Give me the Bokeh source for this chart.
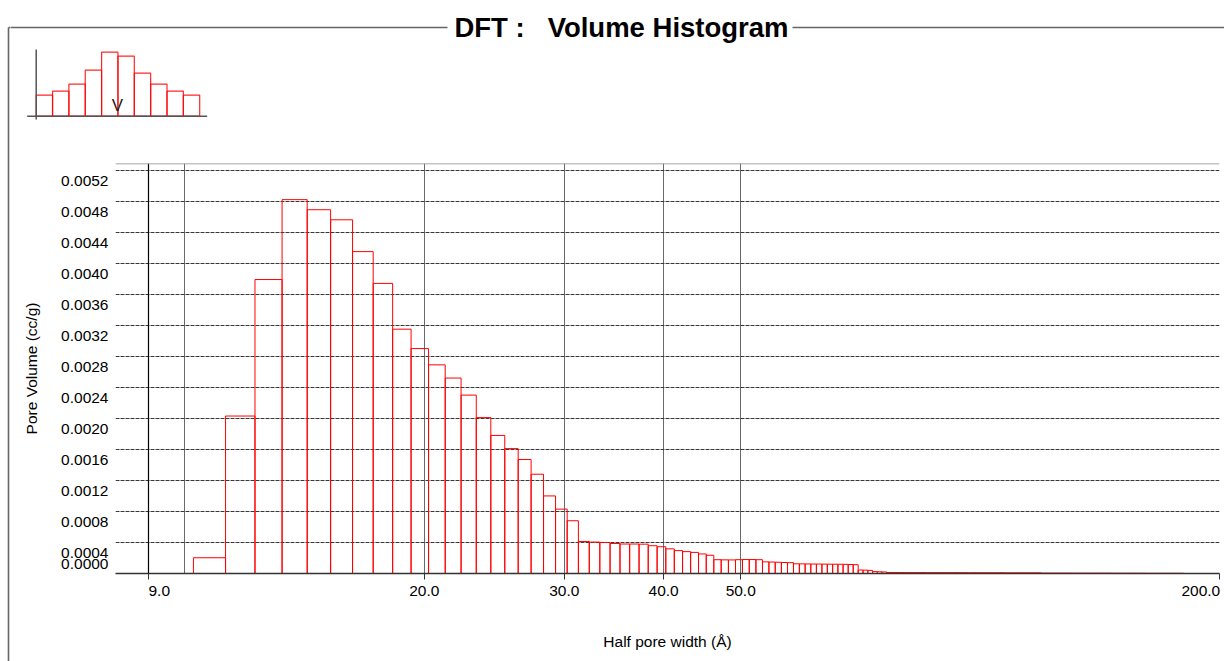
import numpy as np
from bokeh.plotting import figure
from bokeh.layouts import column, row
from bokeh.models import (Range1d, FixedTicker, PrintfTickFormatter, Span, LinearAxis, Grid,
                          ColumnDataSource)
from bokeh.core.properties import value
from bokeh.embed import file_html
from bokeh.resources import INLINE

# ---------------- data ----------------
first_bin_edge = 10.25      # half pore width (A) of first bin's left edge
bin_width = 1.0             # uniform 1 A bins

pore_volume = [
    0.000203, 0.00203, 0.00379, 0.00482, 0.00469, 0.00456, 0.00415, 0.00374, 0.00315, 0.00290,
    0.00269, 0.00252, 0.00230, 0.00201, 0.00178, 0.00161, 0.00147, 0.00128, 0.00100, 0.00083,
    0.00068, 0.000413, 0.000405, 0.000400, 0.000387, 0.000380, 0.000380, 0.000378, 0.000358, 0.000345,
    0.000318, 0.000295, 0.000282, 0.000272, 0.000252, 0.000235, 0.000178, 0.000176, 0.000175, 0.000178,
    0.000180, 0.000180, 0.000178, 0.000150, 0.000148, 0.000145, 0.000142, 0.000140, 0.000125, 0.000124,
    0.000123, 0.000122, 0.000122, 0.000121, 0.000120, 0.000120, 0.000119, 0.000118, 0.000116, 0.000114,
    0.000045, 0.000043, 0.000040, 0.000024, 0.000022, 0.000020, 0.000013, 0.000013, 0.000013, 0.000012,
    0.000012, 0.000012, 0.000012, 0.000012, 0.000012, 0.000011, 0.000011, 0.000011, 0.000011, 0.000011,
    0.000011, 0.000011, 0.000011, 0.000011, 0.000011, 0.000011, 0.000010, 0.000010, 0.000010, 0.000010,
    0.000010, 0.000010, 0.000010, 0.000010, 0.000010, 0.000010, 0.000010, 0.000009, 0.000009, 0.000009,
    0.000009, 0.000009, 0.000009, 0.000009, 0.000009, 0.000009, 0.000009, 0.000009, 0.000009, 0.000006,
    0.000006, 0.000006, 0.000006, 0.000006, 0.000006, 0.000006, 0.000006, 0.000006, 0.000006, 0.000006,
    0.000005, 0.000005, 0.000005, 0.000005, 0.000005, 0.000005, 0.000005, 0.000005, 0.000005, 0.000005,
    0.000005, 0.000005, 0.000005, 0.000005, 0.000005, 0.000005, 0.000004, 0.000004, 0.000004, 0.000004,
    0.000004, 0.000004, 0.000004, 0.000004, 0.000004, 0.000004, 0.000004, 0.000004, 0.000004, 0.000004,
    0.000004, 0.000003, 0.000003, 0.000003, 0.000003, 0.000003, 0.000003, 0.000003, 0.000003, 0.000003,
    0.000003, 0.000003, 0.000003, 0.000003, 0.000003, 0.000003, 0.000003, 0.000003, 0.000003, 0.000003,
]

x_ticks = [9, 20, 30, 40, 50, 200]
x_grid_ticks = [10, 20, 30, 40, 50, 200]
y_ticks = [0.0004, 0.0008, 0.0012, 0.0016, 0.0020, 0.0024, 0.0028,
           0.0032, 0.0036, 0.0040, 0.0044, 0.0048, 0.0052]
y_zero_label = "0.0000"

inset_bars = [21, 25, 32, 46, 64, 60, 43, 32, 25, 21]   # icon bar heights

NB = "\u00a0"
title_text = "DFT :" + NB * 3 + "Volume Histogram"
x_label = "Half pore width (\u00c5)"
y_label = "Pore Volume (cc/g)"

FONT = "Liberation Sans"
RED = "#ff0000"
FRAME_GREY = "#666666"

W, H, TOP_H, STRIP_W = 1224, 661, 140, 10
MAIN_H = H - TOP_H

# ---------------- left strip: outer frame left edge (full height) ----------------
strip = figure(width=STRIP_W, height=H, x_range=Range1d(0, STRIP_W), y_range=Range1d(H, 0),
               min_border=0, toolbar_location=None, output_backend="svg",
               x_axis_location=None, y_axis_location=None, outline_line_color=None)
strip.grid.visible = False
strip.frame_align = False
strip.segment(x0=[8, 8], y0=[27, 27], x1=[8, STRIP_W + 1], y1=[H + 1, 27],
              line_color=FRAME_GREY, line_width=1.6)

# ---------------- top strip: title, outer frame top edge, icon ----------------
top = figure(width=W - STRIP_W, height=TOP_H, x_range=Range1d(STRIP_W, W), y_range=Range1d(TOP_H, 0),
             min_border=0, toolbar_location=None, output_backend="svg",
             x_axis_location=None, y_axis_location=None, outline_line_color=None)
top.grid.visible = False
top.frame_align = False

top.segment(x0=[STRIP_W - 1, 792], y0=[27, 27], x1=[447, W], y1=[27, 27],
            line_color=FRAME_GREY, line_width=1.6)
top.text(x=[621], y=[27], text=[title_text], text_align="center", text_baseline="middle",
         text_font=value(FONT), text_font_style="bold", text_font_size="27.5px", text_color="black")

n_in = len(inset_bars)
icon_left, icon_w, icon_base = 35.7, 16.35, 115.7
ic_left = [icon_left + i * icon_w for i in range(n_in)]
ic_right = [l + icon_w for l in ic_left]
ic_top = [icon_base - h for h in inset_bars]
top.quad(left=ic_left, right=ic_right, bottom=icon_base, top=ic_top,
         fill_color=None, line_color=RED, line_width=1.2, line_alpha=0.85)
top.segment(x0=[icon_left, 26.7], y0=[49, icon_base], x1=[icon_left, 206.7], y1=[119, icon_base],
            line_color="#555555", line_width=1.5)
top.text(x=[117], y=[105], text=["V"], text_align="center", text_baseline="middle",
         text_font=value(FONT), text_font_size="17px", text_color="#222222")

# ---------------- main histogram ----------------
n = len(pore_volume)
edges = first_bin_edge + bin_width * np.arange(n + 1)
src = ColumnDataSource(dict(left=edges[:-1], right=edges[1:], top=pore_volume))

FRAME_H = 410
x_start = 8.18
y_end = 0.005286
p = figure(width=W - STRIP_W, height=MAIN_H, x_axis_type="log",
           x_range=Range1d(x_start, 200), y_range=Range1d(0, y_end),
           min_border_left=115 - STRIP_W, min_border_right=5, min_border_top=23, min_border_bottom=88,
           toolbar_location=None, output_backend="svg", outline_line_color=None,
           y_axis_location=None,
           background_fill_color="white", border_fill_color="white")
p.frame_align = False

p.quad(left="left", right="right", bottom=0, top="top", source=src,
       fill_color=None, line_color=RED, line_width=1)

# x axis (edge labels padded so they sit inside the chart like the original)
xa = p.xaxis[0]
xa.ticker = FixedTicker(ticks=x_ticks, minor_ticks=[])
xa.formatter = PrintfTickFormatter(format="%.1f")
xa.major_label_overrides = {9: NB * 5 + "9.0", 200: "200.0" + NB}
xa.axis_line_color = "#333333"
xa.axis_line_width = 1.3
xa.major_tick_line_color = "#333333"
xa.major_tick_in = 0
xa.major_tick_out = 6
xa.minor_tick_line_color = None
xa.major_label_standoff = 2
xa.major_label_text_font = FONT
xa.major_label_text_font_size = "15.5px"
xa.major_label_text_color = "black"
xa.axis_label = x_label
xa.axis_label_text_font = FONT
xa.axis_label_text_font_size = "15.5px"
xa.axis_label_text_font_style = "normal"
xa.axis_label_text_color = "black"
xa.axis_label_standoff = 31

# y axis on a shifted range: labels sit just under their grid lines
shift_px = 10.5
d = shift_px / FRAME_H * y_end
zero_label_pos = 0.00026
p.extra_y_ranges = {"ylab": Range1d(d, y_end + d)}
ya = LinearAxis(y_range_name="ylab")
ya.ticker = FixedTicker(ticks=[zero_label_pos] + y_ticks, minor_ticks=[])
ya.formatter = PrintfTickFormatter(format="%.4f")
ya.major_label_overrides = {zero_label_pos: y_zero_label}
ya.axis_line_color = None
ya.major_tick_line_color = None
ya.minor_tick_line_color = None
ya.major_tick_out = 0
ya.major_tick_in = 0
ya.major_label_standoff = 7
ya.major_label_text_font = FONT
ya.major_label_text_font_size = "15.5px"
ya.major_label_text_color = "black"
ya.axis_label = y_label
ya.axis_label_text_font = FONT
ya.axis_label_text_font_size = "15.5px"
ya.axis_label_text_font_style = "normal"
ya.axis_label_text_color = "black"
ya.axis_label_standoff = 18
p.add_layout(ya, "left")

# grids
p.xgrid.ticker = FixedTicker(ticks=x_grid_ticks, minor_ticks=[])
p.xgrid.grid_line_color = "#6a6a6a"
p.xgrid.grid_line_width = 1
for g in p.ygrid:
    g.visible = False
p.add_layout(Grid(dimension=1, ticker=FixedTicker(ticks=y_ticks, minor_ticks=[]),
                  grid_line_color="#383838", grid_line_width=1.1, grid_line_dash="4 1"))

# frame lines
p.add_layout(Span(location=x_ticks[0], dimension="height", line_color="black", line_width=1.2))
p.add_layout(Span(location=y_end, dimension="width", line_color="#888888", line_width=1.5))

layout = row(strip, column(top, p, spacing=0), spacing=0)
open("out.html", "w").write(file_html(layout, INLINE))
